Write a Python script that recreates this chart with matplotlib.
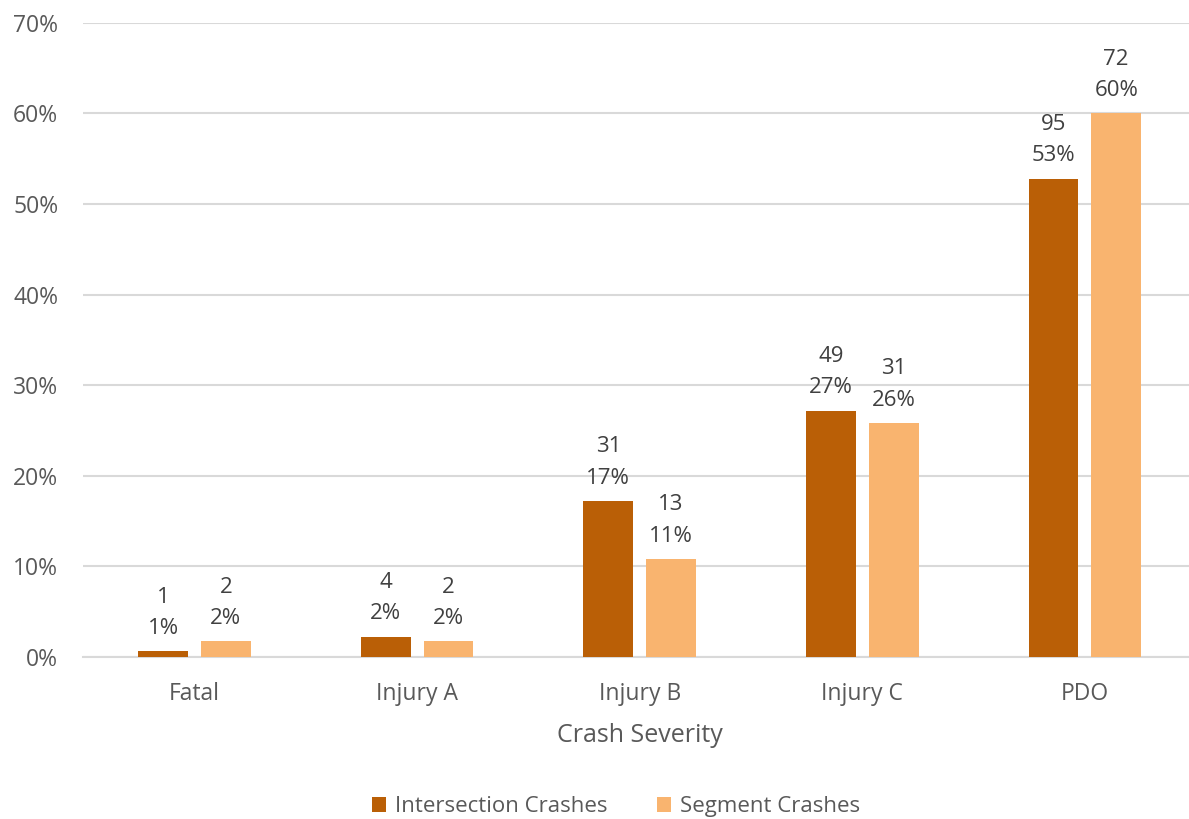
import matplotlib.pyplot as plt
import numpy as np
from matplotlib.ticker import FuncFormatter, MultipleLocator

plt.rcParams['font.family'] = ['Open Sans', 'DejaVu Sans']

categories = ['Fatal', 'Injury A', 'Injury B', 'Injury C', 'PDO']
intersection_counts = [1, 4, 31, 49, 95]
intersection_pct = [0.6, 2.2, 17.2, 27.2, 52.8]
segment_counts = [2, 2, 13, 31, 72]
segment_pct = [1.7, 1.7, 10.8, 25.8, 60.0]

dark = '#BA5F06'
light = '#F9B46F'
grid_c = '#D9D9D9'
tick_c = '#595959'
label_c = '#404040'

fig = plt.figure(figsize=(11.89, 8.19), dpi=100)
ax = fig.add_axes([0.0700, 0.198, 0.936, 0.774])

x = np.arange(len(categories))
w = 0.224
off = 0.141
b1 = ax.bar(x - off, intersection_pct, w, color=dark, label='Intersection Crashes', zorder=3)
b2 = ax.bar(x + off, segment_pct, w, color=light, label='Segment Crashes', zorder=3)

for bars, counts, pcts in [(b1, intersection_counts, intersection_pct), (b2, segment_counts, segment_pct)]:
    for b, c, p in zip(bars, counts, pcts):
        ax.annotate(f'{c}\n{p:.0f}%', (b.get_x() + b.get_width() / 2, p),
                    xytext=(0, 9), textcoords='offset points', ha='center', va='bottom',
                    fontsize=16, color=label_c, linespacing=1.65)

ax.set_xlim(-0.5, 4.5)
ax.set_ylim(0, 70)
ax.yaxis.set_major_locator(MultipleLocator(10))
ax.yaxis.set_major_formatter(FuncFormatter(lambda v, pos: f'{v:.0f}%'))
ax.set_xticks(x)
ax.set_xticklabels(categories)
ax.tick_params(axis='both', length=0, labelsize=16.5, colors=tick_c)
ax.tick_params(axis='x', pad=18)
ax.tick_params(axis='y', pad=18)
ax.grid(axis='y', color=grid_c, linewidth=1.5, zorder=0)
for s in ['top', 'right', 'left']:
    ax.spines[s].set_visible(False)
ax.spines['bottom'].set_color(grid_c)
ax.spines['bottom'].set_linewidth(1.5)

ax.set_xlabel('Crash Severity', fontsize=18, color=tick_c, labelpad=12)

fig.legend(handles=[b1, b2], loc='lower center', bbox_to_anchor=(0.518, -0.022), ncol=2,
           frameon=False, fontsize=16, labelcolor=tick_c, handlelength=0.65, handleheight=0.65,
           handletextpad=0.4, columnspacing=2.2)

fig.savefig('out.png', dpi=100)
